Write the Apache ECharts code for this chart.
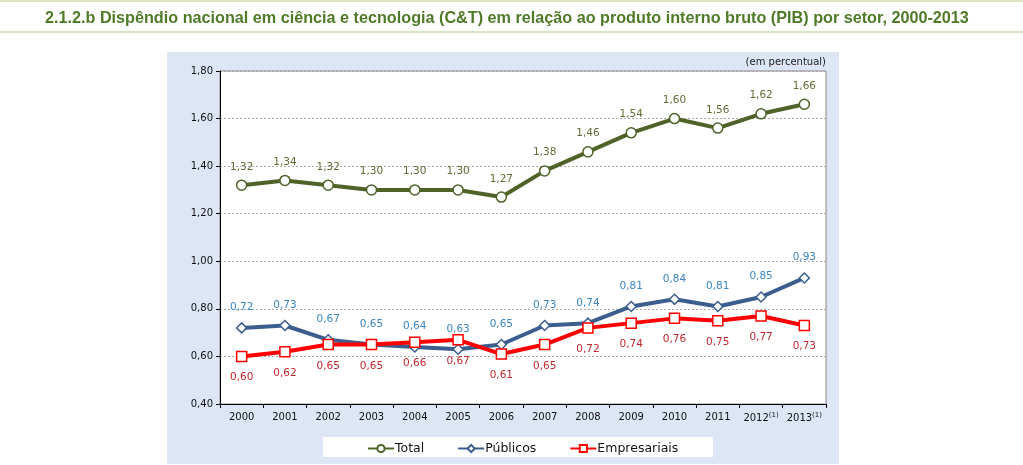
<!DOCTYPE html>
<html><head><meta charset="utf-8">
<script src="https://cdn.jsdelivr.net/npm/echarts@6/dist/echarts.min.js"></script>
<style>html,body{margin:0;padding:0;background:#fff}#c{width:1023px;height:465px}</style>
</head><body><div id="c"></div>
<script>
const years = ['2000','2001','2002','2003','2004','2005','2006','2007','2008','2009','2010','2011','2012','2013'];
const yearNotes = ['','','','','','','','','','','','','(1)','(1)'];
const total = [1.32,1.34,1.32,1.30,1.30,1.30,1.27,1.38,1.46,1.54,1.60,1.56,1.62,1.66];
const publicos = [0.72,0.73,0.67,0.65,0.64,0.63,0.65,0.73,0.74,0.81,0.84,0.81,0.85,0.93];
const empresariais = [0.60,0.62,0.65,0.65,0.66,0.67,0.61,0.65,0.72,0.74,0.76,0.75,0.77,0.73];
const seriesNames = ['Total','Públicos','Empresariais'];

const fmt = v => v.toFixed(2).replace('.', ',');
const chart = echarts.init(document.getElementById('c'), null, {renderer:'canvas'});
const F = 'DejaVu Sans';
chart.setOption({
  animation:false,
  backgroundColor:'#fff',
  title:{text:'2.1.2.b Dispêndio nacional em ciência e tecnologia (C&T) em relação ao produto interno bruto (PIB) por setor, 2000-2013',
    left:40, top:6, textStyle:{fontFamily:'Liberation Sans', fontWeight:'bold', fontSize:16.2, color:'#4f7a28'}},
  graphic:[
    {type:'rect', shape:{x:0,y:0,width:1023,height:2}, style:{fill:'#d8e4c0'}, z:-10},
    {type:'rect', shape:{x:0,y:31,width:1023,height:2}, style:{fill:'#d8e4c0'}, z:-10},
    {type:'rect', shape:{x:167,y:52,width:672,height:412}, style:{fill:'#dce6f4'}, z:-10},
    {type:'rect', shape:{x:323,y:437,width:390,height:20}, style:{fill:'#fff'}, z:-5},
    {type:'text', right:1023-826, top:57, style:{text:'(em percentual)', font:'10px "DejaVu Sans"', fill:'#222'}}
  ],
  grid:{left:220, right:197, top:71, bottom:61, show:true, backgroundColor:'#fff', borderColor:'#888', borderWidth:1},
  legend:{data:seriesNames, left:362, top:437, itemGap:33, itemWidth:26, itemHeight:9,
    textStyle:{fontFamily:F, fontSize:12.5, color:'#111', padding:[0,0,0,-4]}},
  xAxis:{type:'category', data:years, boundaryGap:true,
    axisLine:{lineStyle:{color:'#000', width:1}},
    axisTick:{show:true, length:4, lineStyle:{color:'#000'}},
    axisLabel:{interval:0, fontFamily:F, fontSize:10, color:'#111', margin:8,
      formatter:(v,i)=> yearNotes[i] ? v+'{s|'+yearNotes[i]+'}' : v,
      rich:{s:{fontSize:7, fontFamily:F, color:'#111', verticalAlign:'top', padding:[0,0,6,0]}}}},
  yAxis:{type:'value', min:0.4, max:1.8, interval:0.2,
    axisLine:{show:true, lineStyle:{color:'#000', width:1}},
    axisTick:{show:true, length:4, lineStyle:{color:'#000'}},
    axisLabel:{fontFamily:F, fontSize:10, color:'#111', margin:7, formatter:v=>fmt(v)},
    splitLine:{lineStyle:{color:'#aaa', type:[2,2]}}},
  series:[
    {name:'Total', type:'line', data:total, symbol:'circle', symbolSize:10,
      lineStyle:{color:'#4f6228', width:4}, itemStyle:{color:'#fff', borderColor:'#4f6228', borderWidth:1.5},
      color:'#4f6228',
      label:{show:true, position:'top', distance:7, formatter:p=>fmt(p.value), fontFamily:F, fontSize:10.5, color:'#5f6b35'}},
    {name:'Públicos', type:'line', data:publicos, symbol:'diamond', symbolSize:10,
      lineStyle:{color:'#3b5e8f', width:4}, itemStyle:{color:'#fff', borderColor:'#3b5e8f', borderWidth:1.5},
      color:'#3b5e8f',
      label:{show:true, position:'top', distance:9, formatter:p=>fmt(p.value), fontFamily:F, fontSize:10.5, color:'#3a86c4'}},
    {name:'Empresariais', type:'line', data:empresariais, symbol:'rect', symbolSize:10,
      lineStyle:{color:'#ff0000', width:4}, itemStyle:{color:'#fff', borderColor:'#ff0000', borderWidth:1.5},
      color:'#ff0000', z:3,
      label:{show:true, position:'bottom', distance:10, formatter:p=>fmt(p.value), fontFamily:F, fontSize:10.5, color:'#c0282d'}}
  ]
});
</script></body></html>
